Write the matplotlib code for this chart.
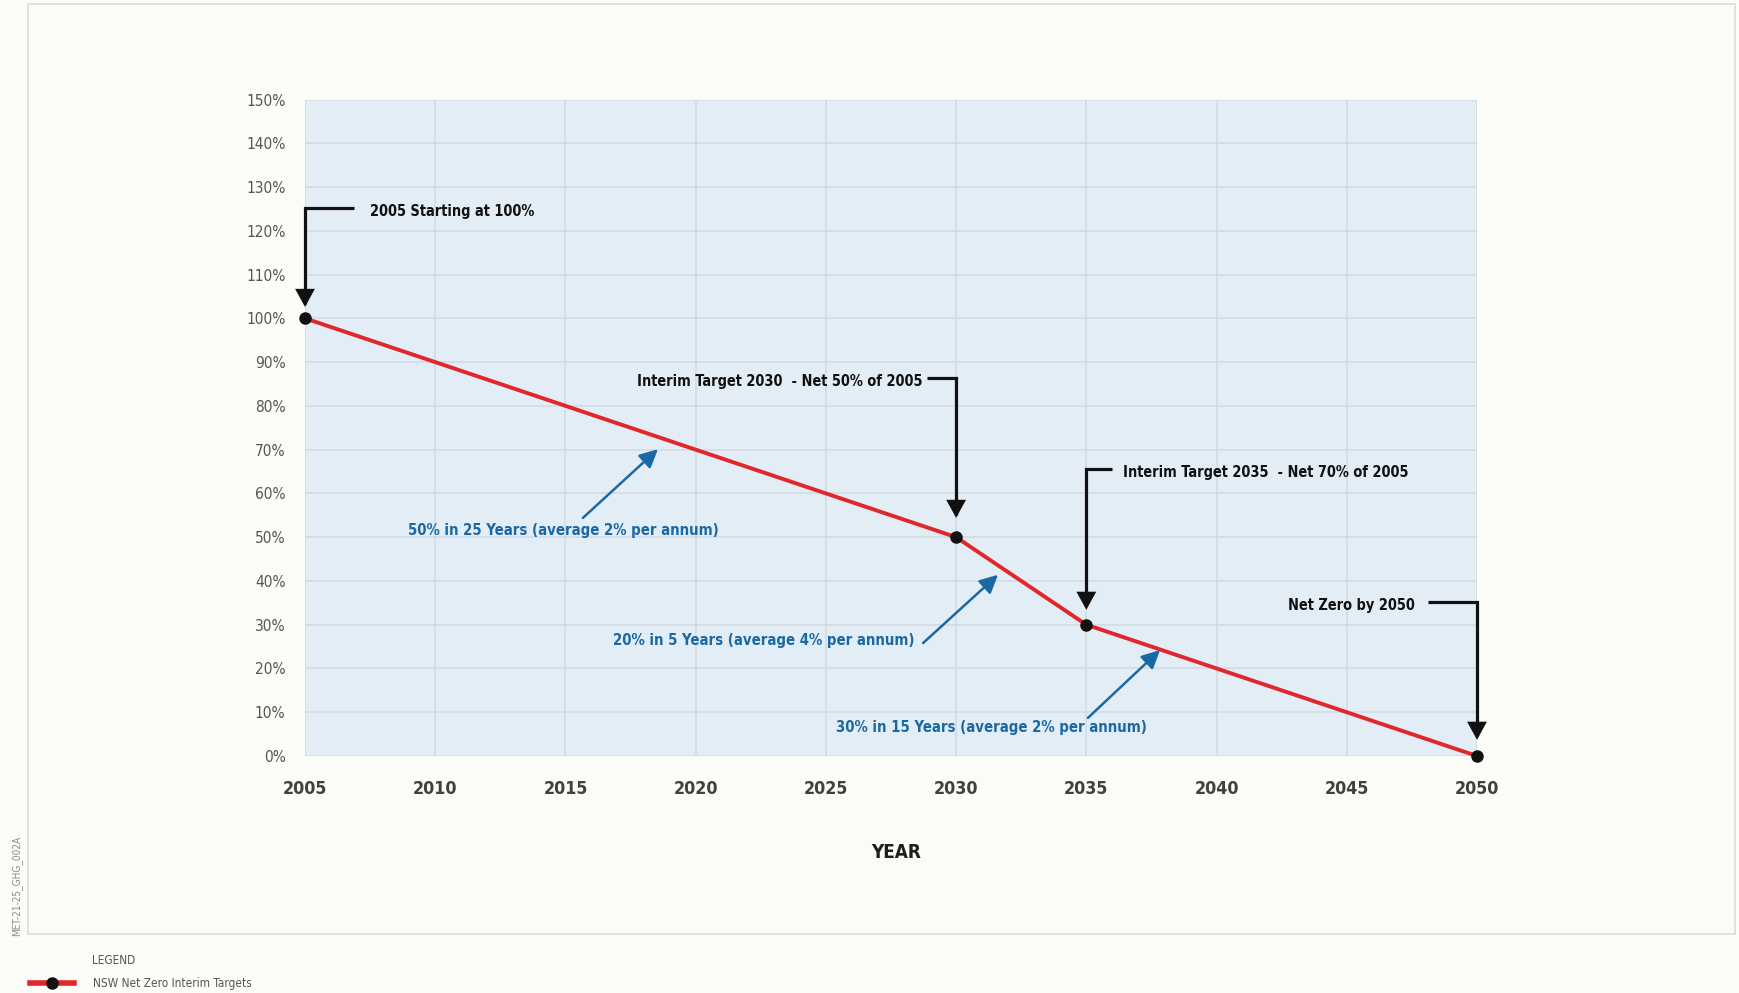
import matplotlib
matplotlib.use("Agg")
import matplotlib.pyplot as plt
from matplotlib import font_manager as fm
from matplotlib.patches import Rectangle

# ---- data -------------------------------------------------------------
years = [2005, 2030, 2035, 2050]
emissions_pct = [100, 50, 30, 0]
series_label = "NSW Net Zero Interim Targets"

x_ticks = [2005, 2010, 2015, 2020, 2025, 2030, 2035, 2040, 2045, 2050]
y_ticks = list(range(0, 151, 10))
y_tick_labels = [f"{v}%" for v in y_ticks]

target_notes = [
    "2005 Starting at 100%",
    "Interim Target 2030  - Net 50% of 2005",
    "Interim Target 2035  - Net 70% of 2005",
    "Net Zero by 2050",
]
rate_notes = [
    "50% in 25 Years (average 2% per annum)",
    "20% in 5 Years (average 4% per annum)",
    "30% in 15 Years (average 2% per annum)",
]

# ---- fonts: prefer a narrow face ------------------------------------
available = {f.name for f in fm.fontManager.ttflist}
stretches = {(f.name, f.stretch) for f in fm.fontManager.ttflist}
if "Liberation Sans Narrow" in available:
    FONT, STRETCH, K = "Liberation Sans Narrow", "normal", 1.0
elif any(n == "DejaVu Sans" and s in ("condensed", 75, "semi-condensed") for n, s in stretches):
    FONT, STRETCH, K = "DejaVu Sans", "condensed", 0.85
else:
    FONT, STRETCH, K = "Roboto", "normal", 0.85
plt.rcParams["font.family"] = [FONT, "DejaVu Sans"]
plt.rcParams["font.stretch"] = STRETCH

# ---- colours ---------------------------------------------------------
PAGE = "#FBFBF7"
PLOT_BG = "#E3EDF6"
GRID = "#D3D9E0"
RED = "#E1262C"
BLUE = "#1B69A4"
INK = "#111111"

W, H = 1740, 993
fig = plt.figure(figsize=(W / 100, H / 100), dpi=100, facecolor=PAGE)

# outer frame
fig.patches.append(Rectangle((28 / W, 1 - 934 / H), (1735 - 28) / W, (934 - 4) / H,
                             transform=fig.transFigure, facecolor=PAGE,
                             edgecolor="#DCDCDC", linewidth=1.2, zorder=-5))

ax = fig.add_axes([305 / W, 1 - 756 / H, (1477 - 305) / W, (756 - 99.5) / H])
ax.set_zorder(2)
ax.set_facecolor(PLOT_BG)
ax.set_xlim(2005, 2050)
ax.set_ylim(0, 150)
ax.set_xticks(x_ticks)
ax.set_xticklabels([str(t) for t in x_ticks], fontsize=15 * K, fontweight="bold", color="#404040")
ax.set_yticks(y_ticks)
ax.set_yticklabels(y_tick_labels, fontsize=13 * K, color="#555555")
ax.tick_params(axis="both", length=0)
ax.tick_params(axis="x", pad=17)
ax.tick_params(axis="y", pad=14)
ax.grid(True, color=GRID, linewidth=1.1)
ax.set_axisbelow(True)
for s in ax.spines.values():
    s.set_visible(False)

# main series
line, = ax.plot(years, emissions_pct, color=RED, linewidth=2.8, marker="o",
                markersize=8, markerfacecolor=INK, markeredgecolor=INK,
                solid_joinstyle="round", zorder=5, clip_on=False, label=series_label)

# ---- black elbow callouts --------------------------------------------
note_fs = 12.3 * K

def callout(px, py, elbow_y, elbow_x, tip_gap, text, tx, ha):
    # one continuous path: horizontal leg, square corner, then down to the point
    ax.annotate("", xy=(px, py + tip_gap), xytext=(elbow_x, elbow_y),
                arrowprops=dict(arrowstyle="-|>,head_length=0.95,head_width=0.52",
                                connectionstyle="angle,angleA=0,angleB=90,rad=0",
                                color=INK, lw=2.3, shrinkA=0, shrinkB=0,
                                joinstyle="miter", capstyle="butt"),
                zorder=6, annotation_clip=False)
    ax.text(tx, elbow_y - 0.8, text, ha=ha, va="center", fontsize=note_fs,
            fontweight="bold", color=INK, zorder=7)

callout(years[0], emissions_pct[0], 125.3, 2006.9, 2.6, target_notes[0], 2007.5, "left")
callout(years[1], emissions_pct[1], 86.4, 2028.9, 4.4, target_notes[1], 2028.7, "right")
callout(years[2], emissions_pct[2], 65.6, 2036.0, 3.4, target_notes[2], 2036.4, "left")
callout(years[3], emissions_pct[3], 35.2, 2048.1, 3.7, target_notes[3], 2047.6, "right")

# ---- blue rate callouts -----------------------------------------------
blue_kw = dict(arrowstyle="-|>,head_length=1.1,head_width=0.55", color=BLUE,
               lw=1.8, shrinkA=0, shrinkB=0)
rate_fs = 12.6 * K
ax.annotate("", xy=(2018.55, 70.1), xytext=(2015.67, 54.4), arrowprops=blue_kw, zorder=6)
ax.text(2014.93, 51.6, rate_notes[0], ha="center", va="center", fontsize=rate_fs,
        fontweight="bold", color=BLUE, zorder=7)
ax.annotate("", xy=(2031.61, 41.4), xytext=(2028.73, 25.8), arrowprops=blue_kw, zorder=6)
ax.text(2028.42, 26.5, rate_notes[1], ha="right", va="center", fontsize=rate_fs,
        fontweight="bold", color=BLUE, zorder=7)
ax.annotate("", xy=(2037.83, 24.2), xytext=(2035.06, 8.7), arrowprops=blue_kw, zorder=6)
ax.text(2031.36, 6.4, rate_notes[2], ha="center", va="center", fontsize=rate_fs,
        fontweight="bold", color=BLUE, zorder=7)

# axis title
fig.text(896 / W, 1 - 852 / H, "YEAR", ha="center", va="center", fontsize=16 * K,
         fontweight="bold", color="#1E1E1E")

# drawing reference code
fig.text(17 / W, 1 - 886 / H, "MET-21-25_GHG_002A", rotation=90, ha="center",
         va="center", fontsize=8.5 * K, color="#8A8A8A")

# legend
leg_fs = 10 * K
fig.text(92 / W, 1 - 961 / H, "LEGEND", ha="left", va="center", fontsize=leg_fs,
         color="#555555")
leg = fig.legend(handles=[line], labels=[series_label], loc="center left",
                 bbox_to_anchor=(30 / W, 1 - 984 / H), frameon=False,
                 fontsize=leg_fs, handlelength=3.7, handletextpad=1.6,
                 borderpad=0, borderaxespad=0, labelcolor="#555555")
leg.get_lines()[0].set_linewidth(4)

fig.savefig("out.png", dpi=100, facecolor=PAGE)
